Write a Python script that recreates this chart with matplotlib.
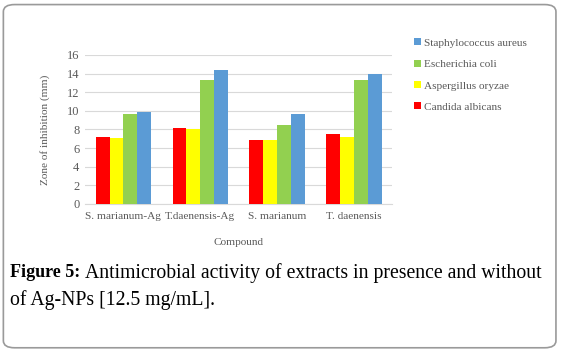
import matplotlib.pyplot as plt
import numpy as np
from matplotlib.patches import FancyBboxPatch

# data
compounds = ["S. marianum-Ag", "T.daenensis-Ag", "S. marianum", "T. daenensis"]
candida = [7.2, 8.15, 6.9, 7.5]
aspergillus = [7.1, 8.0, 6.9, 7.2]
ecoli = [9.7, 13.3, 8.45, 13.3]
staph = [9.9, 14.4, 9.7, 14.0]

series = [
    ("Candida albicans", candida, "#FF0000"),
    ("Aspergillus oryzae", aspergillus, "#FFFF00"),
    ("Escherichia coli", ecoli, "#92D050"),
    ("Staphylococcus aureus", staph, "#5B9BD5"),
]

plt.rcParams["font.family"] = ["Liberation Serif", "DejaVu Serif"]

fig = plt.figure(figsize=(5.61, 3.52), dpi=100)

# rounded frame around the whole figure
frame = FancyBboxPatch((0.006, 0.012), 0.985, 0.975,
                       boxstyle="round,pad=0,rounding_size=0.02",
                       transform=fig.transFigure, fill=False,
                       edgecolor="#9a9a9a", linewidth=1.2)
fig.patches.append(frame)

ax = fig.add_axes([0.1515, 0.4205, 0.548, 0.4233])

x = np.arange(len(compounds))
w = 0.18
for i, (name, vals, col) in enumerate(series):
    ax.bar(x + (i - 1.5) * w, vals, width=w, color=col, label=name, zorder=3)

fs = 8.1
ax.set_xlim(-0.5, len(compounds) - 0.5)
ax.set_ylim(0, 16)
ax.set_yticks(range(0, 17, 2))
ax.grid(axis="y", color="#d9d9d9", linewidth=0.8, zorder=0)
for s in ["top", "right", "left"]:
    ax.spines[s].set_visible(False)
ax.spines["bottom"].set_color("#d9d9d9")
ax.tick_params(axis="x", length=0, labelsize=fs, colors="#595959", pad=6)
ax.tick_params(axis="y", length=0, labelsize=9, colors="#595959", pad=4)
ax.set_xticks(x)
ax.set_xticklabels(compounds)
ax.set_ylabel("Zone of inhibition (mm)", fontsize=fs, color="#595959", labelpad=12)
ax.set_xlabel("Compound", fontsize=fs, color="#595959", labelpad=12)

handles, labels = ax.get_legend_handles_labels()
fig.legend(handles[::-1], labels[::-1], loc="upper left",
           bbox_to_anchor=(0.72, 0.92), frameon=False, fontsize=fs,
           handlelength=0.6, handleheight=0.6, handletextpad=0.3,
           labelspacing=1.05, labelcolor="#595959")

# caption
cs = 14.2
fig.text(0.018, 0.225, "Figure 5:", fontsize=13, fontweight="bold", va="center")
fig.text(0.152, 0.225, "Antimicrobial activity of extracts in presence and without",
         fontsize=cs, va="center")
fig.text(0.018, 0.148, "of Ag-NPs [12.5 mg/mL].", fontsize=cs, va="center")

fig.savefig("out.png", dpi=100)
